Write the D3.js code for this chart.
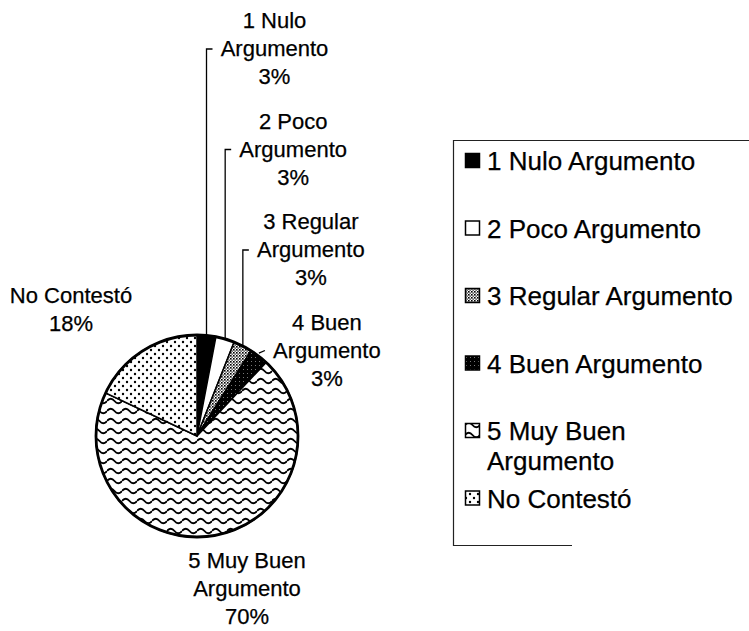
<!DOCTYPE html>
<html>
<head>
<meta charset="utf-8">
<script src="https://cdn.jsdelivr.net/npm/d3@7"></script>
<style>
  body { margin: 0; background: #fff; }
  text { font-family: "Liberation Sans", Arial, sans-serif; fill: #000; stroke: #000; stroke-width: 0.25px; }
</style>
</head>
<body>
<div id="chart"></div>
<script>
// chart data
var categories = ["1 Nulo Argumento", "2 Poco Argumento", "3 Regular Argumento",
  "4 Buen Argumento", "5 Muy Buen Argumento", "No Contestó"];
var percents = [3, 3, 3, 3, 70, 18];
var pieLabels = [["1 Nulo", "Argumento"], ["2 Poco", "Argumento"], ["3 Regular", "Argumento"],
  ["4 Buen", "Argumento"], ["5 Muy Buen", "Argumento"], ["No Contestó"]];
var legendLabels = [["1 Nulo Argumento"], ["2 Poco Argumento"], ["3 Regular Argumento"],
  ["4 Buen Argumento"], ["5 Muy Buen", "Argumento"], ["No Contestó"]];

var svgWidth = 749;
var svgHeight = 631;

var cx = 197;
var cy = 436;
var radius = 101;

var svg = d3.select("#chart")
  .append("svg")
  .attr("width", svgWidth)
  .attr("height", svgHeight);

// fill patterns, one per slice
var defs = svg.append("defs");

function makePattern(id, w, h, bg) {
  var p = defs.append("pattern")
    .attr("id", id)
    .attr("patternUnits", "userSpaceOnUse")
    .attr("width", w)
    .attr("height", h);
  p.append("rect").attr("width", w).attr("height", h).attr("fill", bg);
  return p;
}

makePattern("p0", 4, 4, "#000");
makePattern("p1", 4, 4, "#fff");

var p2 = makePattern("p2", 3, 3, "#fff");
p2.append("rect").attr("x", 0).attr("y", 0).attr("width", 1.6).attr("height", 1.6).attr("fill", "#000");
p2.append("rect").attr("x", 1.5).attr("y", 1.5).attr("width", 1.3).attr("height", 1.3).attr("fill", "#222");

var p3 = makePattern("p3", 4, 4, "#000");
p3.append("rect").attr("x", 2).attr("y", 1).attr("width", 1).attr("height", 1).attr("fill", "#777");

var p4 = makePattern("p4", 15, 10, "#fff");
p4.append("path")
  .attr("d", "M0,5 Q3.75,0.5 7.5,5 T15,5")
  .attr("fill", "none")
  .attr("stroke", "#000")
  .attr("stroke-width", 1.9);

var p5 = makePattern("p5", 8, 8, "#fff");
p5.append("circle").attr("cx", 2).attr("cy", 2).attr("r", 1.2).attr("fill", "#000");
p5.append("circle").attr("cx", 6).attr("cy", 6).attr("r", 1.2).attr("fill", "#000");

// pie
var pie = d3.pie().sort(null).value(function(d) { return d; });
var arc = d3.arc().innerRadius(0).outerRadius(radius);
var arcs = pie(percents);

var pieGroup = svg.append("g")
  .attr("transform", `translate(${cx}, ${cy})`);

pieGroup.selectAll("path")
  .data(arcs)
  .enter()
  .append("path")
  .attr("d", arc)
  .attr("fill", function(d, i) { return "url(#p" + i + ")"; })
  .attr("stroke", "#000")
  .attr("stroke-width", 1.5);

pieGroup.append("circle")
  .attr("r", radius)
  .attr("fill", "none")
  .attr("stroke", "#000")
  .attr("stroke-width", 2.8);

// labels
var fontSize = 22;
var lineH = 28;

function edgePoint(d) {
  var a = (d.startAngle + d.endAngle) / 2;
  return [cx + radius * Math.sin(a), cy - radius * Math.cos(a)];
}

function drawLabel(lines, pct, x, y0) {
  var t = svg.append("text")
    .attr("text-anchor", "middle")
    .style("font-size", fontSize + "px");
  lines.concat([pct + "%"]).forEach(function(s, k) {
    t.append("tspan").attr("x", x).attr("y", y0 + k * lineH).text(s);
  });
}

// small slices: labels stacked above the pie, with leader lines
arcs.slice(0, 4).forEach(function(d, i) {
  var e = edgePoint(d);
  var argY = 56 + i * 100.5;
  var tickY = argY - 7;
  var pts = i < 3
    ? [[e[0], e[1]], [e[0], tickY], [e[0] + 6, tickY]]
    : [[e[0], e[1] - 3], [e[0] + 6, tickY]];
  svg.append("path")
    .attr("d", d3.line()(pts))
    .attr("fill", "none")
    .attr("stroke", "#000")
    .attr("stroke-width", 1.3);
  drawLabel(pieLabels[i], percents[i], e[0] + 68, argY - lineH);
});

drawLabel(pieLabels[4], percents[4], cx + 50, cy + radius + 31);
drawLabel(pieLabels[5], percents[5], 71, 303);

// legend border (top, left, part of bottom as in the scan)
var legend = svg.append("g");
legend.append("path")
  .attr("d", "M749,140.5 H453.5 V545.5 H572")
  .attr("fill", "none")
  .attr("stroke", "#222")
  .attr("stroke-width", 1.2);

categories.forEach(function(c, i) {
  var by = 170 + i * 67.5;
  legend.append("rect")
    .attr("x", 465.5)
    .attr("y", by - 16.5)
    .attr("width", 14)
    .attr("height", 14)
    .attr("fill", "url(#p" + i + ")")
    .attr("stroke", "#000")
    .attr("stroke-width", 1.5);
  var t = legend.append("text")
    .style("font-size", "26px");
  legendLabels[i].forEach(function(s, k) {
    t.append("tspan").attr("x", 487).attr("y", by + k * 30).text(s);
  });
});
</script>
</body>
</html>
